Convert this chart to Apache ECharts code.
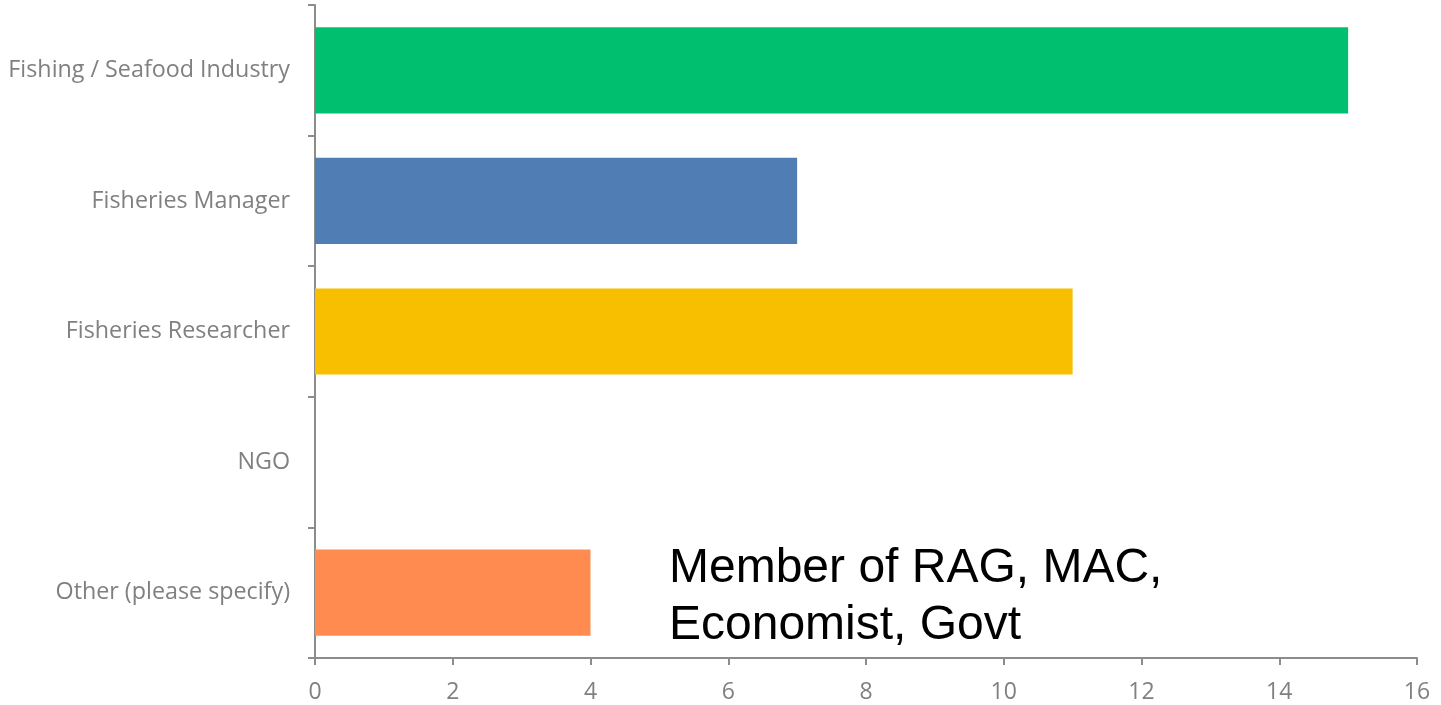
<!DOCTYPE html>
<html>
<head>
<meta charset="utf-8">
<script src="https://cdn.jsdelivr.net/npm/echarts@6/dist/echarts.min.js"></script>
<style>
  html, body { margin: 0; padding: 0; background: #ffffff; }
  #chart { width: 1441px; height: 705px; }
</style>
</head>
<body>
<div id="chart"></div>
<script>
// Respondent roles and their counts
const categories = ['Fishing / Seafood Industry', 'Fisheries Manager', 'Fisheries Researcher', 'NGO', 'Other (please specify)'];
const counts = [15, 7, 11, 0, 4];
const barColors = ['#00BF6F', '#507DB4', '#F7BF00', '#A5A5A5', '#FF8B50'];
const otherNote = ['Member of RAG, MAC,', 'Economist, Govt'];

const axisGrey = '#8C8C8C';
const labelGrey = '#808080';

const chart = echarts.init(document.getElementById('chart'));
chart.setOption({
  animation: false,
  backgroundColor: '#ffffff',
  grid: { left: 315, right: 24, top: 5, bottom: 47, containLabel: false },
  xAxis: {
    type: 'value',
    min: 0,
    max: 16,
    interval: 2,
    splitLine: { show: false },
    axisLine: { show: true, lineStyle: { color: axisGrey, width: 2 } },
    axisTick: { show: true, length: 7, lineStyle: { color: axisGrey, width: 2 } },
    axisLabel: { color: labelGrey, fontFamily: '"Open Sans"', fontSize: 23, margin: 23 }
  },
  yAxis: {
    type: 'category',
    inverse: true,
    data: categories,
    axisLine: { show: true, lineStyle: { color: axisGrey, width: 2 } },
    axisTick: { show: true, length: 7, lineStyle: { color: axisGrey, width: 2 } },
    axisLabel: { color: labelGrey, fontFamily: '"Open Sans"', fontSize: 23.3, margin: 25 }
  },
  series: [{
    type: 'bar',
    data: counts.map((v, i) => ({ value: v, itemStyle: { color: barColors[i] } })),
    barCategoryGap: '34%'
  }],
  graphic: [{
    type: 'text',
    left: 669,
    top: 540,
    style: {
      text: otherNote.join('\n'),
      fill: '#000000',
      font: '48px "Liberation Sans", Arial, sans-serif',
      lineHeight: 57
    }
  }]
});
</script>
</body>
</html>
